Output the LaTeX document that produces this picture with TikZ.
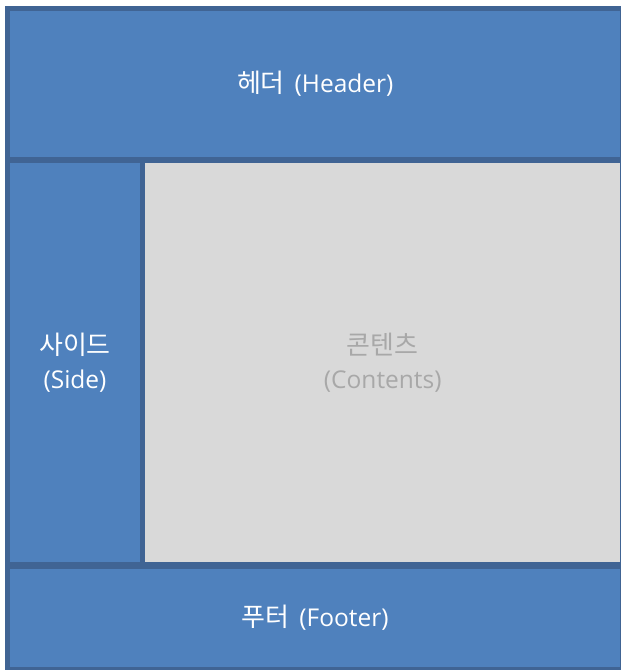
\documentclass[tikz,border=0pt]{standalone}
\usepackage{fontspec}
\setmainfont{Open Sans}
\newfontfamily\kofont[Scale=1.06]{Noto Sans CJK KR}
\newcommand{\ko}[1]{{\kofont #1}}
\newcommand{\kogap}{\hspace{0.4em}}
\usepackage{xcolor}
\definecolor{panelblue}{RGB}{79, 129, 189}
\definecolor{paneledge}{RGB}{64, 100, 148}
\definecolor{contentgray}{RGB}{217, 217, 217}
\definecolor{contenttext}{RGB}{168, 168, 168}
\usepackage{tikz}
\usetikzlibrary{positioning}

\begin{document}
\begin{tikzpicture}[
        x=1pt, y=-1pt,
        panel/.style={
            rectangle,
            draw=paneledge,
            line width=5.5pt,
            fill=panelblue,
            text=white,
            align=center,
            inner sep=0pt,
            font=\fontsize{24.5}{34}\selectfont
        },
        content/.style={
            panel,
            fill=contentgray,
            text=contenttext
        }
    ]
        \useasboundingbox (0,0) rectangle (621,670);

        % Panels
        \node[panel, minimum width=615.5pt, minimum height=151pt] (header) at (315.25,84) {\ko{헤더}\kogap(Header)};
        \node[panel, minimum width=135pt, minimum height=405pt] (side) at (75,362.5) {\ko{사이드}\\(Side)};
        \node[content, minimum width=480.5pt, minimum height=405pt] (contents) at (382.75,362.5) {\ko{콘텐츠}\\(Contents)};
        \node[panel, minimum width=615.5pt, minimum height=104pt] (footer) at (315.25,618) {\ko{푸터}\kogap(Footer)};
    \end{tikzpicture}
\end{document}
